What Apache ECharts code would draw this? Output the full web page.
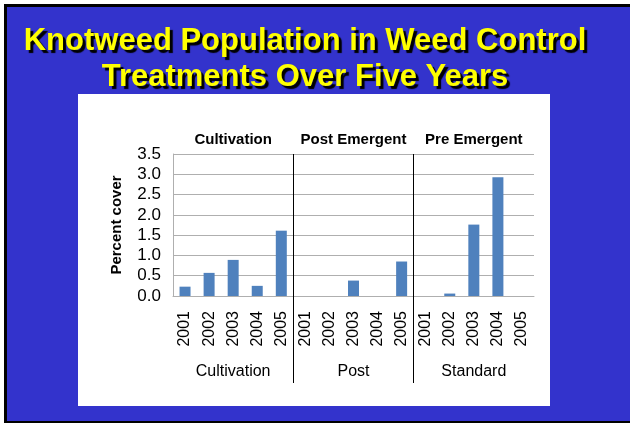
<!DOCTYPE html>
<html><head><meta charset="utf-8">
<script src="https://cdn.jsdelivr.net/npm/echarts@6/dist/echarts.min.js"></script>
<style>
html,body{margin:0;padding:0;background:#fff;overflow:hidden;width:630px;height:423px;}
#frame{position:absolute;left:4px;top:4px;width:640px;height:414px;background:#3333CC;border-top:3px solid #000;border-left:3px solid #000;border-bottom:2px solid #000;}
#panel{position:absolute;left:78px;top:94px;width:472px;height:312px;background:#fff;}
#chart{position:absolute;left:0;top:0;width:630px;height:423px;}
</style></head>
<body>
<div id="frame"></div>
<div id="panel"></div>
<div id="chart"></div>
<script>
const titleLines = ['Knotweed Population in Weed Control', 'Treatments Over Five Years'];
const years = ['2001','2002','2003','2004','2005','2001','2002','2003','2004','2005','2001','2002','2003','2004','2005'];
const groups = ['Cultivation', 'Post', 'Standard'];
const panelTitles = ['Cultivation', 'Post Emergent', 'Pre Emergent'];
const cover = [0.23, 0.57, 0.89, 0.25, 1.61, 0, 0, 0.38, 0, 0.85, 0, 0.06, 1.76, 2.93, 0];
const groupBoundaries = [5, 10];
const yMin = 0, yMax = 3.5, yStep = 0.5;

const FONT = 'Liberation Sans, Arial, sans-serif';
const GRAY = '#AFAFAF';
const chart = echarts.init(document.getElementById('chart'), null, {renderer: 'canvas'});
chart.setOption({
  backgroundColor: 'transparent',
  animation: false,
  title: {
    text: titleLines.join('\n'),
    left: 305, top: 23, padding: 0, textAlign: 'center',
    textStyle: {color: '#FFFF00', fontSize: 31, fontWeight: 'bold', fontFamily: FONT, lineHeight: 36,
      textShadowColor: '#000000', textShadowOffsetX: 3, textShadowOffsetY: 3, textShadowBlur: 1}
  },
  grid: {left: 173, right: 96, top: 154, bottom: 127, containLabel: false},
  xAxis: [
    {type: 'category', data: years, position: 'bottom', offset: 0,
      axisLine: {lineStyle: {color: GRAY}},
      axisTick: {interval: 0, length: 51, lineStyle: {color: GRAY}},
      axisLabel: {interval: 0, rotate: 90, margin: 15, fontSize: 16, fontFamily: FONT, color: '#000'}},
    {type: 'category', data: groups, position: 'bottom', offset: 0,
      axisLine: {show: false},
      axisTick: {interval: 0, length: 87, lineStyle: {color: GRAY}},
      axisLabel: {interval: 0, margin: 68, fontSize: 16, fontFamily: FONT, color: '#000'}},
    {type: 'value', min: 0, max: years.length, position: 'bottom', offset: 0,
      axisLine: {show: false}, axisLabel: {show: false}, splitLine: {show: false},
      axisTick: {show: true, customValues: groupBoundaries, length: 87, lineStyle: {color: '#000'}}},
    {type: 'category', data: panelTitles, position: 'top', offset: 0,
      axisLine: {show: false}, axisTick: {show: false},
      axisLabel: {interval: 0, margin: 7, fontSize: 15, fontWeight: 'bold', fontFamily: FONT, color: '#000'}}
  ],
  yAxis: {type: 'value', min: yMin, max: yMax, interval: yStep,
    name: 'Percent cover', nameLocation: 'middle', nameGap: 49,
    nameTextStyle: {fontWeight: 'bold', fontSize: 15, fontFamily: FONT, color: '#000'},
    axisLine: {show: true, lineStyle: {color: GRAY}}, axisTick: {show: false},
    axisLabel: {formatter: v => v.toFixed(1), fontSize: 17, margin: 12, fontFamily: FONT, color: '#000'},
    splitLine: {lineStyle: {color: GRAY}}},
  series: [
    {type: 'bar', xAxisIndex: 0, data: cover, barWidth: 11, itemStyle: {color: '#4F81BD'}},
    {type: 'line', xAxisIndex: 2, data: [], markLine: {silent: true, symbol: 'none', label: {show: false},
      lineStyle: {color: '#000', type: 'solid', width: 1},
      data: groupBoundaries.map(v => ({xAxis: v}))}}
  ]
});
</script>
</body></html>
